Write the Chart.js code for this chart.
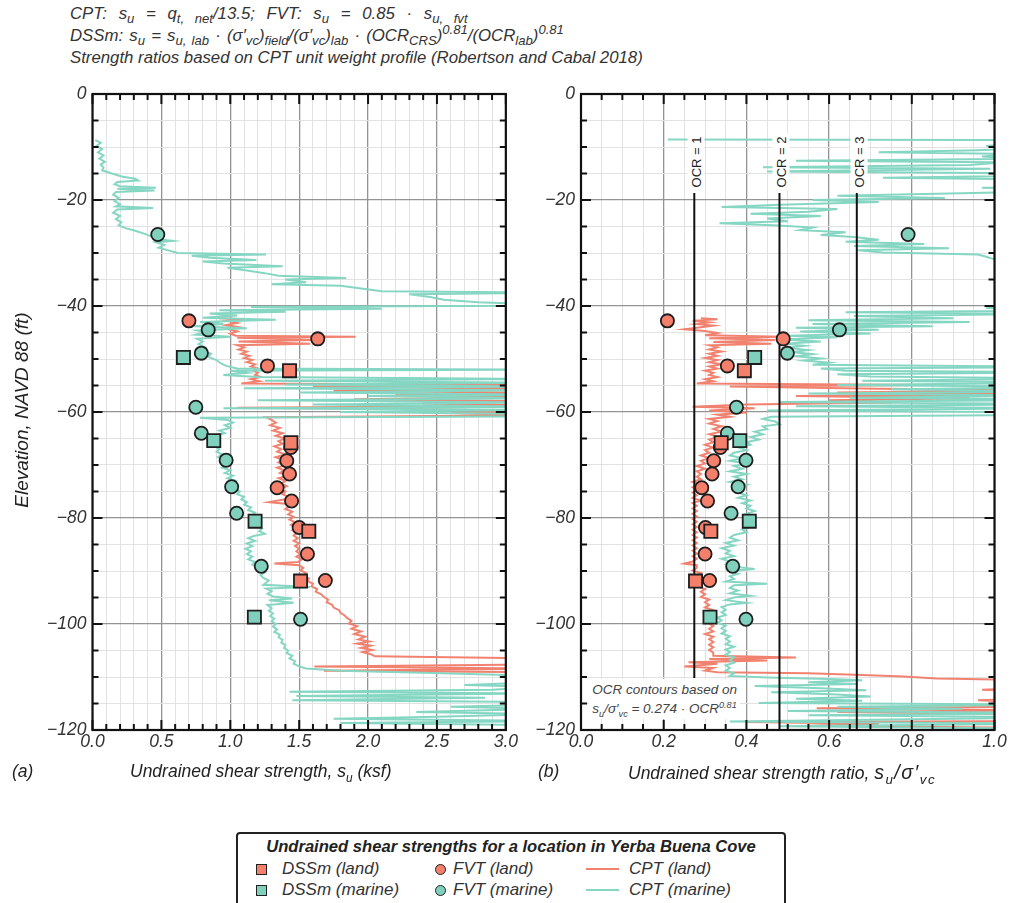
<!DOCTYPE html>
<html>
<head>
<meta charset="utf-8">
<script src="https://cdn.jsdelivr.net/npm/chart.js@4.4.1/dist/chart.umd.min.js"></script>
<style>
body { margin:0; background:#fff; width:1011px; height:903px; overflow:hidden; position:relative;
  font-family:"Liberation Sans", Arial, sans-serif; color:#333; }
sub, sup { font-size:0.68em; line-height:0; }
canvas { position:absolute; top:0; }
#head { position:absolute; left:70px; top:3px; font-size:16.8px; line-height:22px; font-style:italic; color:#333; white-space:nowrap; }
#head .eq sub, #head .eq sup { font-size:0.78em; }
#head .l1 { word-spacing:7px; }
#head .l2 { word-spacing:1.5px; }
.ytitle { position:absolute; left:22px; top:410px; transform:translate(-50%,-50%) rotate(-90deg); font-size:19px; font-style:italic; white-space:nowrap; color:#222; }
.xtitle { position:absolute; top:761px; font-size:17.5px; font-style:italic; white-space:nowrap; color:#222; }
.ocr { position:absolute; transform:translate(-50%,-50%) rotate(-90deg); background:#fff; font-size:13px; padding:1px 3px; white-space:nowrap; color:#222; }
.note { position:absolute; background:#fff; font-size:13.5px; font-style:italic; line-height:19px; color:#444; padding:1px 3px; white-space:nowrap; }
#legend { position:absolute; left:236px; top:832px; width:550px; height:80px; border:2px solid #222; border-radius:4px; box-sizing:border-box; }
#legend .ttl { position:absolute; left:0; right:0; top:3px; text-align:center; font-weight:bold; font-style:italic; font-size:16.6px; color:#222; }
#legend .lbl { position:absolute; font-style:italic; font-size:17px; color:#333; white-space:nowrap; }
#legend .mk { position:absolute; box-sizing:border-box; border:1.5px solid #222; }
#legend .ln { position:absolute; height:2px; }
</style>
</head>
<body>
<div id="head">
  <span class="eq l1">CPT: s<sub>u</sub> = q<sub>t, net</sub>/13.5; FVT: s<sub>u</sub> = 0.85 · s<sub>u, fvt</sub></span><br>
  <span class="eq l2">DSSm: s<sub>u</sub> = s<sub>u, lab</sub> · (σ′<sub>vc</sub>)<sub>field</sub>/(σ′<sub>vc</sub>)<sub>lab</sub> · (OCR<sub>CRS</sub>)<sup>0.81</sup>/(OCR<sub>lab</sub>)<sup>0.81</sup></span><br>
  Strength ratios based on CPT unit weight profile (Robertson and Cabal 2018)
</div>
<canvas id="panelA" width="520" height="780" style="left:0px"></canvas>
<canvas id="panelB" width="521" height="780" style="left:490px"></canvas>
<div class="ytitle">Elevation, NAVD 88 (ft)</div>
<div class="xtitle" style="left:12px">(a)</div>
<div class="xtitle" style="left:130px">Undrained shear strength, s<sub>u</sub> (ksf)</div>
<div class="xtitle" style="left:538px">(b)</div>
<div class="xtitle" style="left:628px">Undrained shear strength ratio, <span style="font-size:1.12em;letter-spacing:1.5px">s<sub>u</sub>/σ′<sub>vc</sub></span></div>

<div id="legend">
  <div class="ttl">Undrained shear strengths for a location in Yerba Buena Cove</div>
  <div class="mk" style="left:18px;top:30px;width:11px;height:11px;background:#F47F6B"></div>
  <div class="lbl" style="left:44px;top:25px">DSSm (land)</div>
  <div class="mk" style="left:18px;top:51px;width:11px;height:11px;background:#7FD1BE"></div>
  <div class="lbl" style="left:44px;top:46px">DSSm (marine)</div>
  <div class="mk" style="left:197px;top:30px;width:11px;height:11px;border-radius:50%;background:#F47F6B"></div>
  <div class="lbl" style="left:215px;top:25px">FVT (land)</div>
  <div class="mk" style="left:197px;top:51px;width:11px;height:11px;border-radius:50%;background:#7FD1BE"></div>
  <div class="lbl" style="left:215px;top:46px">FVT (marine)</div>
  <div class="ln" style="left:348px;top:34px;width:33px;background:#F28270"></div>
  <div class="lbl" style="left:391px;top:25px">CPT (land)</div>
  <div class="ln" style="left:348px;top:55px;width:33px;background:#86D6C4"></div>
  <div class="lbl" style="left:391px;top:46px">CPT (marine)</div>
</div>

<script>
// point tests: elevation (ft), su (ksf), su / sigma'vc
var fvtLandElev = [-42.8, -46.2, -51.3, -66.7, -69.2, -71.7, -74.3, -76.8, -81.8, -86.8, -91.8];
var fvtLandSu = [0.70, 1.635, 1.27, 1.44, 1.41, 1.43, 1.34, 1.445, 1.50, 1.56, 1.69];
var fvtLandRatio = [0.209, 0.489, 0.354, 0.337, 0.321, 0.317, 0.292, 0.306, 0.301, 0.300, 0.311];

var fvtMarineElev = [-26.5, -44.5, -48.9, -59.1, -64.0, -69.1, -74.1, -79.1, -89.1, -99.1];
var fvtMarineSu = [0.474, 0.84, 0.79, 0.75, 0.79, 0.97, 1.01, 1.046, 1.225, 1.51];
var fvtMarineRatio = [0.791, 0.625, 0.499, 0.376, 0.354, 0.399, 0.380, 0.363, 0.367, 0.399];

var dssLandElev = [-52.2, -65.8, -82.5, -91.9];
var dssLandSu = [1.43, 1.44, 1.57, 1.51];
var dssLandRatio = [0.395, 0.339, 0.314, 0.277];

var dssMarineElev = [-49.7, -65.4, -80.6, -98.7];
var dssMarineSu = [0.66, 0.88, 1.18, 1.175];
var dssMarineRatio = [0.420, 0.384, 0.407, 0.312];

// OCR contours (su/sigma'vc = 0.274 OCR^0.81)
var ocrValues = [1, 2, 3];
var ocrRatios = [0.274, 0.480, 0.667];
var ocrTopElev = -18.7;
var ocrBottomElev = [-110.2, -120, -120];

// CPT profiles as [elevation, value]; 3.3 / 1.2 = off the right edge
var cptMarineSu = [
  [-8.7,0.02],[-9.2,0.06],[-9.8,0.03],[-10.4,0.07],[-11.0,0.04],[-11.6,0.08],[-12.2,0.05],[-12.8,0.09],
  [-13.3,0.06],[-13.9,0.08],[-14.4,0.07],[-15.0,0.14],[-15.6,0.22],[-16.0,0.31],[-16.3,0.33],[-16.6,0.18],
  [-17.0,0.16],[-17.4,0.20],[-17.7,0.46],[-17.9,0.18],[-18.2,0.45],[-18.5,0.17],[-19.0,0.15],[-19.6,0.19],
  [-20.2,0.16],[-20.8,0.20],[-21.2,0.17],[-21.5,0.44],[-21.8,0.18],[-22.4,0.15],[-23.0,0.20],[-23.6,0.17],
  [-24.2,0.21],[-24.8,0.19],[-25.3,0.24],[-25.8,0.31],[-26.4,0.38],[-27.0,0.44],[-27.4,0.48],[-27.7,0.58],
  [-28.0,0.46],[-28.5,0.52],[-29.0,0.48],[-29.5,0.55],[-30.0,0.62],[-30.3,1.26],[-30.5,0.72],[-30.9,0.85],
  [-31.3,1.19],[-31.6,0.80],[-32.0,0.95],[-32.5,1.38],[-32.8,0.98],[-33.3,1.12],[-33.8,1.25],[-34.3,1.35],
  [-34.7,1.84],[-35.0,1.40],[-35.5,1.55],[-35.9,1.30],[-36.2,1.80],[-36.7,1.95],[-37.2,2.10],[-37.5,3.3],
  [-37.8,2.30],[-38.3,2.45],[-38.8,2.55],[-39.3,2.80],[-39.7,3.3],[-39.9,3.3],[-40.2,1.15],[-40.5,2.10],
  [-40.8,0.92],[-41.1,1.40],[-41.4,0.85],[-41.8,1.05],[-42.2,0.80],[-42.6,1.33],[-43.0,0.78],[-43.4,0.95],
  [-43.8,0.74],[-44.2,1.12],[-44.6,0.76],[-45.0,0.82],[-45.4,0.75],[-45.8,1.00],[-46.2,0.76],[-46.7,0.80],
  [-47.2,0.77],[-47.8,0.82],[-48.4,0.80],[-49.0,0.86],[-49.6,0.84],[-50.2,0.90],[-50.8,0.93],[-51.3,0.97],
  [-51.8,1.05],[-52.0,3.3],[-52.2,1.00],[-52.6,1.12],[-53.0,0.95],[-53.4,1.20],[-53.8,3.3],[-54.1,1.25],
  [-54.5,3.3],[-54.8,1.40],[-55.2,3.3],[-55.5,1.10],[-55.9,3.3],[-56.3,1.50],[-56.7,3.3],[-57.0,2.00],
  [-57.4,3.3],[-57.8,1.20],[-58.2,3.3],[-58.6,1.60],[-59.0,3.3],[-59.3,0.95],[-59.6,3.3],[-60.0,1.80],
  [-60.4,3.3],[-60.8,3.3],[-61.1,0.78],[-61.5,0.98],[-62.0,1.02],[-62.5,0.96],[-63.0,1.00],[-63.5,0.92],
  [-64.0,0.96],[-64.5,0.88],[-65.0,0.92],[-65.5,0.87],[-66.0,0.90],[-66.5,0.89],[-67.0,0.92],[-67.5,0.90],
  [-68.0,0.94],[-68.5,0.91],[-69.0,0.95],[-69.5,0.93],[-70.0,0.98],[-70.5,0.94],[-71.0,1.00],[-71.5,0.96],
  [-72.0,1.02],[-72.5,0.98],[-73.0,1.04],[-73.5,1.01],[-74.0,1.05],[-74.5,1.03],[-75.0,1.07],[-75.5,1.05],
  [-76.0,1.10],[-76.5,1.08],[-77.0,1.12],[-77.5,1.10],[-78.0,1.15],[-78.5,1.13],[-79.0,1.18],[-79.5,1.16],
  [-80.0,1.20],[-80.5,1.18],[-81.0,1.22],[-81.5,1.19],[-82.0,1.23],[-82.5,1.21],[-83.0,1.25],[-83.4,1.17],
  [-83.8,1.13],[-84.3,1.18],[-84.8,1.12],[-85.3,1.16],[-85.8,1.11],[-86.3,1.15],[-86.8,1.12],[-87.3,1.16],
  [-87.8,1.13],[-88.3,1.18],[-88.8,1.16],[-89.3,1.22],[-89.8,1.20],[-90.3,1.25],[-90.8,1.22],[-91.3,1.24],
  [-91.8,1.28],[-92.6,1.24],[-93.0,1.58],[-93.3,1.26],[-93.8,1.30],[-94.3,1.27],[-94.8,1.31],[-95.2,1.45],
  [-95.5,1.28],[-96.0,1.46],[-96.4,1.27],[-97.0,1.30],[-97.5,1.28],[-98.0,1.31],[-98.5,1.29],[-99.0,1.32],
  [-99.5,1.30],[-100.0,1.33],[-100.5,1.31],[-101.0,1.34],[-101.5,1.32],[-102.0,1.36],[-102.5,1.35],[-103.0,1.38],
  [-103.5,1.37],[-104.0,1.40],[-104.5,1.39],[-105.0,1.42],[-105.5,1.41],[-106.0,1.45],[-106.5,1.43],[-107.0,1.47],
  [-107.5,1.46],[-108.0,1.50],[-108.4,1.55],[-108.8,1.80],[-109.2,2.40],[-109.6,3.0],[-110.0,3.3],[-111.0,3.3],
  [-111.5,2.70],[-111.9,3.3],[-112.4,2.90],[-112.8,1.43],[-113.1,3.3],[-113.6,1.48],[-113.9,2.85],[-114.4,1.45],
  [-114.7,3.3],[-115.2,3.3],[-115.6,2.60],[-116.0,3.3],[-116.6,2.35],[-117.0,3.3],[-117.5,2.50],[-117.9,1.75],
  [-118.3,3.3],[-118.7,1.80],[-119.1,3.3],[-120.0,3.3]
];

var cptLandSu = [
  [-42.3,0.92],[-42.5,1.10],[-42.8,0.98],[-43.2,1.05],[-43.6,0.97],[-44.0,1.06],[-44.4,0.99],[-44.8,1.05],
  [-45.2,1.00],[-45.6,1.04],[-45.8,1.91],[-46.0,1.05],[-46.4,1.62],[-46.7,1.06],[-47.1,1.58],[-47.4,1.05],
  [-47.8,1.10],[-48.2,1.06],[-48.6,1.12],[-49.0,1.08],[-49.4,1.14],[-49.8,1.10],[-50.2,1.16],[-50.6,1.12],
  [-51.0,1.18],[-51.4,1.15],[-51.8,1.20],[-52.2,1.17],[-52.6,1.20],[-53.0,1.18],[-53.4,1.22],[-53.8,1.15],
  [-54.2,1.21],[-54.6,1.08],[-54.9,3.3],[-55.2,1.60],[-55.6,3.3],[-56.0,1.75],[-56.4,3.3],[-56.8,2.20],
  [-57.2,3.3],[-57.6,1.90],[-58.0,3.3],[-58.4,2.40],[-58.8,3.3],[-59.2,1.05],[-59.4,2.10],[-59.8,3.3],
  [-60.2,2.60],[-60.6,3.3],[-61.0,1.26],[-61.5,1.30],[-62.0,1.33],[-62.5,1.29],[-63.0,1.36],[-63.5,1.31],
  [-64.0,1.38],[-64.5,1.33],[-65.0,1.40],[-65.5,1.35],[-66.0,1.38],[-66.5,1.32],[-67.0,1.37],[-67.5,1.34],
  [-68.0,1.40],[-68.5,1.33],[-69.0,1.38],[-69.5,1.35],[-70.0,1.41],[-70.5,1.34],[-71.0,1.39],[-71.5,1.36],
  [-72.0,1.42],[-72.5,1.35],[-73.0,1.40],[-73.5,1.37],[-74.0,1.41],[-74.5,1.36],[-75.0,1.40],[-75.5,1.38],
  [-76.0,1.42],[-76.5,1.39],[-77.0,1.28],[-77.3,1.40],[-77.8,1.43],[-78.3,1.40],[-78.8,1.45],[-79.3,1.42],
  [-79.8,1.46],[-80.3,1.43],[-80.8,1.47],[-81.3,1.44],[-81.8,1.48],[-82.3,1.45],[-82.8,1.48],[-83.3,1.46],
  [-83.8,1.49],[-84.3,1.46],[-84.8,1.50],[-85.3,1.47],[-85.8,1.50],[-86.3,1.48],[-86.8,1.51],[-87.3,1.48],
  [-87.8,1.52],[-88.3,1.49],[-88.6,1.32],[-88.9,1.50],[-89.4,1.53],[-89.9,1.51],[-90.4,1.55],[-90.9,1.53],
  [-91.4,1.57],[-91.9,1.56],[-92.4,1.60],[-92.9,1.59],[-93.4,1.63],[-93.9,1.62],[-94.4,1.66],[-94.9,1.68],
  [-95.4,1.71],[-95.9,1.70],[-96.4,1.74],[-96.9,1.75],[-97.4,1.79],[-97.9,1.80],[-98.4,1.83],[-98.9,1.85],
  [-99.4,1.88],[-99.9,1.86],[-100.4,1.92],[-100.9,1.88],[-101.4,1.95],[-101.9,1.90],[-102.4,1.98],[-102.9,1.93],
  [-103.3,2.01],[-103.7,1.92],[-104.1,2.02],[-104.5,1.95],[-104.9,2.03],[-105.3,1.96],[-105.7,2.02],[-106.1,2.05],
  [-106.5,3.3],[-107.6,3.3],[-108.0,1.61],[-108.4,3.3],[-108.8,1.68],[-109.1,3.3],[-120.0,3.3]
];

var cptMarineRatio = [
  [-8.6,0.21],[-8.7,1.2],[-9.3,1.05],[-9.8,0.98],[-10.2,1.10],[-10.6,0.96],[-11.0,0.72],[-11.3,1.05],
  [-11.8,0.97],[-12.2,1.08],[-12.6,0.52],[-12.9,1.02],[-13.4,0.94],[-13.8,0.44],[-14.1,0.99],[-14.6,0.45],
  [-14.9,0.98],[-15.4,1.10],[-15.8,0.73],[-16.2,1.15],[-16.7,1.05],[-17.2,1.2],[-17.7,0.97],[-18.2,1.15],
  [-18.7,0.95],[-19.2,0.62],[-19.6,0.88],[-20.0,0.56],[-20.4,0.72],[-20.9,0.48],[-21.3,0.34],[-21.7,0.62],
  [-22.2,0.55],[-22.6,0.41],[-23.0,0.58],[-23.5,0.45],[-24.0,0.50],[-24.4,0.335],[-24.8,0.48],[-25.2,0.56],
  [-25.7,0.53],[-26.1,0.64],[-26.6,0.58],[-27.0,0.66],[-27.5,0.72],[-27.9,0.64],[-28.3,0.83],[-28.7,0.66],
  [-29.1,0.89],[-29.5,0.67],[-29.9,0.73],[-30.3,0.96],[-30.7,0.98],[-31.2,1.00],[-31.7,1.10],[-32.5,1.2],
  [-40.0,1.2],[-40.4,0.98],[-40.8,1.2],[-41.2,0.64],[-41.5,1.10],[-41.9,0.66],[-42.3,0.90],[-42.7,0.55],
  [-43.0,0.94],[-43.4,0.56],[-43.8,0.85],[-44.1,0.52],[-44.5,0.72],[-44.8,0.53],[-45.2,0.70],[-45.6,0.50],
  [-45.9,0.62],[-46.3,0.48],[-46.7,0.58],[-47.1,0.49],[-47.5,0.54],[-47.9,0.50],[-48.3,0.55],[-48.7,0.51],
  [-49.1,0.56],[-49.5,0.52],[-49.9,0.58],[-50.3,0.54],[-50.7,0.60],[-51.1,0.56],[-51.5,1.2],[-51.8,0.58],
  [-52.2,0.64],[-52.5,1.2],[-52.9,0.62],[-53.3,0.70],[-53.7,1.2],[-54.1,0.68],[-54.5,1.2],[-54.9,0.62],
  [-55.3,1.2],[-55.7,0.75],[-56.1,1.2],[-56.5,0.55],[-56.9,1.2],[-57.3,0.65],[-57.7,1.2],[-58.1,0.48],
  [-58.5,1.2],[-58.9,0.52],[-59.3,1.2],[-59.7,0.45],[-60.1,1.2],[-60.5,1.2],[-60.9,0.46],[-61.3,0.44],
  [-61.8,0.47],[-62.3,0.48],[-62.7,0.44],[-63.2,0.45],[-63.7,0.42],[-64.2,0.44],[-64.7,0.41],[-65.2,0.43],
  [-65.7,0.40],[-66.2,0.41],[-66.7,0.38],[-67.2,0.40],[-67.7,0.37],[-68.2,0.36],[-68.7,0.39],[-69.2,0.36],
  [-69.7,0.40],[-70.2,0.37],[-70.7,0.39],[-71.2,0.36],[-71.7,0.40],[-72.2,0.37],[-72.7,0.39],[-73.2,0.36],
  [-73.7,0.40],[-74.2,0.37],[-74.7,0.39],[-75.2,0.38],[-75.7,0.40],[-76.2,0.38],[-76.7,0.41],[-77.2,0.39],
  [-77.7,0.41],[-78.2,0.40],[-78.7,0.42],[-79.2,0.40],[-79.7,0.42],[-80.2,0.41],[-80.7,0.42],[-81.2,0.40],
  [-81.7,0.41],[-82.2,0.39],[-82.7,0.40],[-83.2,0.37],[-83.7,0.36],[-84.2,0.38],[-84.7,0.35],[-85.2,0.37],
  [-85.7,0.34],[-86.2,0.36],[-86.7,0.35],[-87.2,0.37],[-87.7,0.34],[-88.2,0.36],[-88.7,0.35],[-89.2,0.37],
  [-89.6,0.42],[-90.0,0.36],[-90.5,0.38],[-91.0,0.36],[-91.5,0.37],[-92.0,0.35],[-92.4,0.45],[-92.7,0.37],
  [-93.2,0.36],[-93.7,0.38],[-94.2,0.36],[-94.7,0.41],[-95.0,0.37],[-95.5,0.35],[-96.0,0.40],[-96.3,0.36],
  [-96.8,0.34],[-97.3,0.35],[-97.8,0.34],[-98.3,0.35],[-98.8,0.33],[-99.3,0.34],[-99.8,0.33],[-100.3,0.35],
  [-100.8,0.34],[-101.3,0.35],[-101.8,0.34],[-102.3,0.36],[-102.8,0.35],[-103.3,0.36],[-103.8,0.35],[-104.3,0.37],
  [-104.8,0.35],[-105.3,0.36],[-105.8,0.35],[-106.3,0.37],[-106.8,0.36],[-107.3,0.37],[-107.8,0.35],[-108.3,0.36],
  [-108.8,0.35],[-109.3,0.37],[-109.8,0.36],[-110.1,0.45],[-110.4,0.60],[-110.6,0.68],[-111.0,0.55],[-111.3,0.67],
  [-111.7,0.42],[-112.1,0.58],[-112.5,0.69],[-112.9,0.46],[-113.3,0.62],[-113.7,0.70],[-114.1,0.52],[-114.5,0.68],
  [-114.9,0.43],[-115.2,1.2],[-115.6,0.62],[-116.0,0.92],[-116.4,0.50],[-116.8,1.2],[-117.2,0.55],[-117.6,1.2],
  [-118.0,0.75],[-118.4,0.36],[-118.8,1.2],[-119.3,0.48],[-119.8,1.2],[-120.0,1.2]
];

var cptLandRatio = [
  [-42.3,0.29],[-42.5,0.33],[-42.8,0.27],[-43.1,0.31],[-43.4,0.28],[-43.7,0.32],[-44.0,0.29],[-44.4,0.25],
  [-44.7,0.30],[-45.1,0.33],[-45.5,0.30],[-45.8,0.49],[-46.1,0.31],[-46.4,0.47],[-46.8,0.32],[-47.1,0.46],
  [-47.4,0.31],[-47.8,0.33],[-48.2,0.31],[-48.6,0.34],[-49.0,0.31],[-49.4,0.33],[-49.8,0.30],[-50.2,0.33],
  [-50.6,0.31],[-51.0,0.34],[-51.4,0.31],[-51.8,0.33],[-52.2,0.30],[-52.6,0.32],[-53.0,0.31],[-53.4,0.33],
  [-53.8,0.30],[-54.2,0.32],[-54.6,0.28],[-54.9,0.84],[-55.2,0.36],[-55.6,0.72],[-55.9,1.1],[-56.3,0.62],
  [-56.7,1.1],[-57.0,0.52],[-57.4,0.94],[-57.8,0.60],[-58.2,0.75],[-58.6,0.40],[-59.0,0.27],[-59.3,0.42],
  [-59.7,0.31],[-60.1,0.40],[-60.5,0.33],[-60.9,0.36],[-61.3,0.31],[-61.7,0.33],[-62.2,0.31],[-62.7,0.34],
  [-63.2,0.32],[-63.7,0.34],[-64.2,0.31],[-64.7,0.33],[-65.2,0.31],[-65.7,0.32],[-66.2,0.30],[-66.7,0.32],
  [-67.2,0.30],[-67.7,0.31],[-68.2,0.29],[-68.7,0.31],[-69.2,0.29],[-69.7,0.30],[-70.2,0.28],[-70.7,0.30],
  [-71.2,0.28],[-71.7,0.29],[-72.2,0.28],[-72.7,0.29],[-73.2,0.27],[-73.7,0.29],[-74.2,0.27],[-74.7,0.28],
  [-75.2,0.27],[-75.7,0.28],[-76.2,0.27],[-76.7,0.29],[-77.2,0.27],[-77.7,0.28],[-78.2,0.27],[-78.7,0.28],
  [-79.2,0.27],[-79.7,0.28],[-80.2,0.27],[-80.7,0.28],[-81.2,0.27],[-81.7,0.28],[-82.2,0.27],[-82.7,0.28],
  [-83.2,0.27],[-83.7,0.28],[-84.2,0.27],[-84.7,0.28],[-85.2,0.27],[-85.7,0.28],[-86.2,0.27],[-86.7,0.28],
  [-87.2,0.27],[-87.7,0.28],[-88.2,0.27],[-88.6,0.25],[-88.9,0.28],[-89.4,0.28],[-89.9,0.27],[-90.4,0.29],
  [-90.9,0.28],[-91.4,0.29],[-91.9,0.28],[-92.4,0.29],[-92.9,0.28],[-93.4,0.30],[-93.9,0.29],[-94.4,0.30],
  [-94.9,0.29],[-95.4,0.31],[-95.9,0.30],[-96.4,0.31],[-96.9,0.30],[-97.4,0.32],[-97.9,0.30],[-98.4,0.32],
  [-98.9,0.31],[-99.4,0.32],[-99.9,0.31],[-100.4,0.32],[-100.9,0.31],[-101.4,0.32],[-101.9,0.30],[-102.4,0.32],
  [-102.9,0.31],[-103.4,0.32],[-103.9,0.31],[-104.4,0.32],[-104.9,0.31],[-105.4,0.32],[-106.0,0.32],[-106.3,0.52],
  [-106.6,0.31],[-106.9,0.45],[-107.2,0.26],[-107.5,0.33],[-108.0,0.25],[-108.3,0.32],[-108.8,0.30],[-109.1,0.33],
  [-109.3,0.55],[-109.6,0.68],[-109.9,0.78],[-110.3,0.86],[-110.6,1.1],[-112.0,1.1],[-112.4,0.97],[-112.8,1.1],
  [-114.1,1.1],[-114.4,0.96],[-114.8,1.1],[-115.6,1.1],[-115.9,0.57],[-116.3,1.1],[-116.6,0.62],[-117.0,1.1],
  [-118.3,1.1],[-118.5,0.40],[-118.8,0.72],[-119.2,0.55],[-119.6,1.1],[-120.0,1.1]
];

var redLine = '#F28270', cyanLine = '#86D6C4';
var redFill = '#F47F6B', cyanFill = '#7FD1BE';
var tickFont = { family: '"Liberation Sans", Arial, sans-serif', size: 17.5, style: 'italic' };

function isMajor(v, step) {
  return Math.abs(v / step - Math.round(v / step)) < 1e-6;
}

function pts(elev, vals) {
  return elev.map(function (e, i) { return { x: vals[i], y: e }; });
}
function prof(pairs) {
  return pairs.map(function (p) { return { x: p[1], y: p[0] }; });
}

// frame and inward ticks on all four sides
var frameTicks = {
  id: 'frameTicks',
  afterDraw: function (chart, args, opts) {
    var ctx = chart.ctx, a = chart.chartArea, x = chart.scales.x, y = chart.scales.y;
    ctx.save();
    ctx.strokeStyle = '#111';
    ctx.lineWidth = 2;
    ctx.beginPath();
    x.ticks.forEach(function (t) {
      var px = x.getPixelForValue(t.value);
      var len = isMajor(t.value, opts.xMajor) ? 10 : 6;
      ctx.moveTo(px, a.bottom); ctx.lineTo(px, a.bottom - len);
      ctx.moveTo(px, a.top); ctx.lineTo(px, a.top + len);
    });
    y.ticks.forEach(function (t) {
      var py = y.getPixelForValue(t.value);
      var len = isMajor(t.value, opts.yMajor) ? 10 : 6;
      ctx.moveTo(a.left, py); ctx.lineTo(a.left + len, py);
      ctx.moveTo(a.right, py); ctx.lineTo(a.right - len, py);
    });
    ctx.stroke();
    ctx.lineWidth = 2.2;
    ctx.strokeRect(a.left, a.top, a.right - a.left, a.bottom - a.top);
    ctx.restore();
  }
};

function lineSet(data, color, order) {
  return { data: data, showLine: true, borderColor: color, borderWidth: 2, pointRadius: 0,
           fill: false, tension: 0, order: order };
}
function markSet(data, fill, style, order) {
  return { data: data, showLine: false, pointStyle: style, pointRadius: style === 'rect' ? 9.3 : 6.6,
           pointBackgroundColor: fill, pointBorderColor: '#1e1e1e', pointBorderWidth: 1.8, order: order };
}

function makePanel(id, datasets, xMax, xStep, xMajor, yWidth, padRight) {
  return new Chart(document.getElementById(id), {
    type: 'scatter',
    data: { datasets: datasets },
    plugins: [frameTicks],
    options: {
      responsive: false,
      animation: false,
      events: [],
      layout: { padding: { top: 94, right: padRight, left: 0, bottom: 0 } },
      plugins: {
        legend: { display: false },
        tooltip: { enabled: false },
        frameTicks: { xMajor: xMajor, yMajor: 20 }
      },
      scales: {
        x: {
          type: 'linear', min: 0, max: xMax,
          afterFit: function (s) { s.height = 50; },
          border: { display: false },
          grid: {
            drawTicks: false,
            color: function (c) { return isMajor(c.tick.value, xMajor) ? '#949494' : '#e2e2e2'; },
            lineWidth: function (c) { return isMajor(c.tick.value, xMajor) ? 1.3 : 1; }
          },
          ticks: {
            stepSize: xStep, autoSkip: false, maxRotation: 0, minRotation: 0, padding: 2,
            font: tickFont, color: '#333',
            callback: function (v) { return isMajor(v, xMajor) ? v.toFixed(1) : ''; }
          }
        },
        y: {
          type: 'linear', min: -120, max: 0,
          afterFit: function (s) { s.width = yWidth; },
          border: { display: false },
          grid: {
            drawTicks: false,
            color: function (c) { return isMajor(c.tick.value, 20) ? '#949494' : '#e2e2e2'; },
            lineWidth: function (c) { return isMajor(c.tick.value, 20) ? 1.3 : 1; }
          },
          ticks: {
            stepSize: 5, autoSkip: false, padding: 6, font: tickFont, color: '#333',
            callback: function (v) {
              if (!isMajor(v, 20)) return '';
              return v === 0 ? '0' : '\u2212' + Math.abs(v);
            }
          }
        }
      }
    }
  });
}

var chartA = makePanel('panelA', [
  markSet(pts(dssLandElev, dssLandSu), redFill, 'rect', 1),
  markSet(pts(dssMarineElev, dssMarineSu), cyanFill, 'rect', 1),
  markSet(pts(fvtLandElev, fvtLandSu), redFill, 'circle', 2),
  markSet(pts(fvtMarineElev, fvtMarineSu), cyanFill, 'circle', 2),
  lineSet(prof(cptMarineSu), cyanLine, 4),
  lineSet(prof(cptLandSu), redLine, 5)
], 3, 0.1, 0.5, 92.5, 14);

var ocrSets = ocrRatios.map(function (r, i) {
  return { data: [{ x: r, y: ocrTopElev }, { x: r, y: ocrBottomElev[i] }], showLine: true,
           borderColor: '#111', borderWidth: 2, pointRadius: 0, order: 3 };
});

var chartB = makePanel('panelB', [
  markSet(pts(dssLandElev, dssLandRatio), redFill, 'rect', 1),
  markSet(pts(dssMarineElev, dssMarineRatio), cyanFill, 'rect', 1),
  markSet(pts(fvtLandElev, fvtLandRatio), redFill, 'circle', 2),
  markSet(pts(fvtMarineElev, fvtMarineRatio), cyanFill, 'circle', 2)
].concat(ocrSets).concat([
  lineSet(prof(cptMarineRatio), cyanLine, 4),
  lineSet(prof(cptLandRatio), redLine, 5)
]), 1, 0.05, 0.2, 91, 16.5);

// OCR labels and note, placed with panel (b) scales
var offB = 490;
var xb = chartB.scales.x, yb = chartB.scales.y;
ocrRatios.forEach(function (r, i) {
  var d = document.createElement('div');
  d.className = 'ocr';
  d.textContent = 'OCR = ' + ocrValues[i];
  d.style.left = (offB + xb.getPixelForValue(r) + 2) + 'px';
  d.style.top = yb.getPixelForValue(-12.9) + 'px';
  document.body.appendChild(d);
});
var note = document.createElement('div');
note.className = 'note';
note.innerHTML = 'OCR contours based on<br>s<sub>u</sub>/σ′<sub>vc</sub> = 0.274 · OCR<sup>0.81</sup>';
note.style.left = (offB + xb.getPixelForValue(0.02)) + 'px';
note.style.top = (yb.getPixelForValue(-110.3)) + 'px';
document.body.appendChild(note);
</script>
</body>
</html>
